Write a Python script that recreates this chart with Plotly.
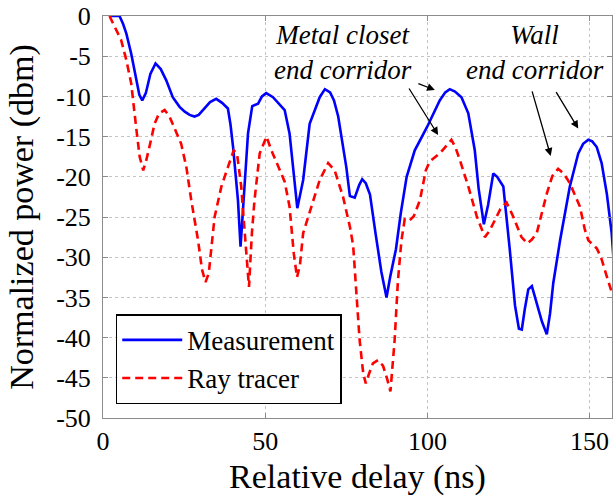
import plotly.graph_objects as go

# Power delay profile: measured vs. ray-traced (normalized power, dBm)
meas_delay = [2.5, 5.1, 6.2, 7.2, 8.7, 10.2, 11.2, 12.1, 13.2, 14.6, 16.2, 17.8, 19.5, 21.5, 23.6,
              25.2, 26.7, 28.2, 29.5, 30.8, 33.0, 34.9, 36.7, 38.5, 39.3, 40.1, 41.6, 42.4, 43.6,
              44.7, 46.0, 47.8, 49.0, 50.3, 52.4, 54.3, 56.0, 57.5, 58.8, 59.9, 61.7, 63.7, 66.8,
              68.4, 70.0, 71.2, 72.5, 75.0, 76.1, 77.6, 79.0, 79.9, 81.0, 82.3, 84.0, 85.8, 87.4,
              88.5, 90.3, 91.8, 93.6, 96.1, 99.9, 103.8, 105.5, 106.9, 108.5, 110.5, 112.6, 114.6,
              115.8, 117.4, 118.7, 120.3, 121.5, 123.4, 125.4, 127.0, 128.2, 129.1, 130.0, 131.1,
              132.2, 133.7, 135.3, 136.8, 137.8, 138.8, 140.9, 143.9, 146.5, 148.0, 149.6, 150.8,
              152.2, 153.7, 155.3, 156.8, 157.5]
meas_power = [0, 0, -1.0, -2.2, -4.7, -8.0, -9.8, -10.5, -9.6, -7.2, -5.9, -6.6, -8.0, -10.1, -11.3,
              -11.9, -12.3, -12.5, -12.3, -11.7, -10.7, -10.3, -10.8, -11.5, -13.5, -16.3, -22.9, -28.7, -21.5,
              -14.6, -11.2, -10.9, -10.0, -9.6, -10.1, -10.9, -11.7, -14.6, -20.0, -23.9, -20.4, -13.4, -10.1,
              -9.1, -9.5, -10.5, -12.5, -18.8, -22.4, -22.6, -21.0, -20.3, -20.8, -22.2, -27.0, -31.8, -35.0,
              -32.5, -29.0, -24.5, -20.0, -16.7, -13.8, -10.5, -9.5, -9.1, -9.4, -10.1, -12.1, -16.7,
              -21.5, -25.9, -23.5, -19.6, -20.0, -21.2, -29.1, -36.0, -38.9, -39.0, -36.5, -34.0,
              -33.6, -35.6, -38.0, -39.6, -37.0, -33.2, -27.9, -21.2, -17.1, -15.9, -15.4, -15.6,
              -16.3, -18.3, -22.1, -27.0, -31.0]

ray_delay = [2.0, 3.5, 5.6, 7.2, 8.7, 10.2, 11.3, 12.4, 13.3, 14.3, 15.9, 17.3, 19.0, 20.5, 22.4,
             24.1, 25.7, 27.2, 29.3, 30.5, 31.6, 32.6, 34.4, 36.5, 38.5, 40.3, 41.3, 42.6, 43.7,
             45.0, 45.9, 46.7, 48.3, 50.4, 51.9, 54.5, 56.0, 57.5, 58.8, 59.8, 60.7, 61.7, 63.7,
             66.8, 69.4, 71.4, 74.0, 76.1, 77.1, 78.1, 79.1, 80.2, 81.0, 82.0, 83.2, 84.8, 86.3,
             87.5, 88.6, 89.9, 90.9, 92.0, 93.0, 94.3, 95.8, 97.7, 99.5, 100.7, 102.3, 103.8,
             105.5, 107.4, 108.6, 110.0, 112.6, 115.2, 117.7, 119.0, 120.8, 122.5, 124.4, 126.4,
             129.0, 130.8, 132.2, 133.7, 136.8, 138.5, 140.3, 142.0, 143.9, 147.0, 148.5, 149.6,
             152.2, 153.5, 155.0, 157.0]
ray_power = [0, -1.3, -3.0, -5.5, -8.4, -13.8, -17.5, -19.2, -18.0, -16.3, -13.4, -12.1, -11.7, -12.5, -14.4,
             -15.9, -18.8, -22.9, -27.9, -31.5, -33.1, -32.0, -25.0, -21.2, -18.8, -16.7, -17.1, -21.2, -27.0,
             -33.7, -27.0, -22.9, -17.1, -15.0, -16.7, -19.2, -20.6, -23.7, -29.5, -32.5, -31.0, -27.0, -24.5,
             -20.4, -18.3, -19.2, -22.5, -26.2, -28.5, -34.1, -40.3, -44.4, -45.7, -44.5, -43.2, -42.8, -43.5,
             -45.0, -46.7, -40.3, -33.0, -27.9, -25.3, -25.5, -24.9, -22.9, -19.2, -18.1, -17.6, -17.1,
             -16.3, -15.4, -16.3, -17.9, -21.2, -24.9, -27.5, -26.8, -25.4, -24.0, -23.2, -24.9,
             -27.5, -28.3, -27.8, -27.0, -22.1, -19.9, -19.0, -19.6, -20.8, -23.7, -26.5, -27.9,
             -28.9, -30.0, -32.0, -34.6]

x_ticks = [0, 50, 100, 150]
y_ticks = [0, -5, -10, -15, -20, -25, -30, -35, -40, -45, -50]
y_tick_text = ["0", "-5", "-10", "-15", "-20", "-25", "-30", "-35", "-40", "-45", "-50"]

FONT = "Liberation Serif, Times New Roman, serif"

fig = go.Figure()
fig.add_trace(go.Scatter(x=meas_delay, y=meas_power, mode="lines", name="Measurement",
                         line=dict(color="#0000ff", width=2.6)))
fig.add_trace(go.Scatter(x=ray_delay, y=ray_power, mode="lines", name="Ray tracer",
                         line=dict(color="#ff0000", width=2.6, dash="8px,5px")))

axis_common = dict(
    showline=True, linecolor="#8c8c8c", linewidth=1, mirror="ticks",
    ticks="inside", ticklen=5, tickcolor="#8c8c8c",
    showgrid=True, gridcolor="#c4c4c4", griddash="dot", gridwidth=1,
    zeroline=False, tickfont=dict(family=FONT, size=26, color="black"),
)

fig.update_xaxes(range=[0, 156.9], tickvals=x_ticks,
                 title=dict(text="Relative delay (ns)", font=dict(family=FONT, size=34, color="black"),
                            standoff=8),
                 **axis_common)
fig.update_yaxes(range=[-50, 0], tickvals=y_ticks, ticktext=y_tick_text,
                 title=dict(text="Normalized power (dbm)", font=dict(family=FONT, size=34, color="black"),
                            standoff=12),
                 ticklabelstandoff=6,
                 **axis_common)

ann_font = dict(family=FONT, size=27, color="black")
fig.add_annotation(x=73.9, y=-4.6, text="<i>Metal closet<br>end corridor</i>", showarrow=False,
                   font=ann_font, xanchor="center", yanchor="middle")
fig.add_annotation(x=133.1, y=-4.6, text="<i>Wall<br>end corridor</i>", showarrow=False,
                   font=ann_font, xanchor="center", yanchor="middle")

# Arrows pointing from the labels to the corresponding peaks
arrows = [(102.3, -9.2, -18, -7), (103.3, -14.8, -30, -48),
          (138.0, -17.4, -19, -66), (146.5, -14.0, -23, -38)]
for hx, hy, dx, dy in arrows:
    fig.add_annotation(x=hx, y=hy, ax=dx, ay=dy, axref="pixel", ayref="pixel", text="",
                       showarrow=True, arrowhead=2, arrowsize=1.2, arrowwidth=1.3, arrowcolor="black")

fig.update_layout(
    width=613, height=498,
    margin=dict(l=103, r=1, t=16, b=80),
    paper_bgcolor="white", plot_bgcolor="white",
    font=dict(family=FONT, color="black"),
    legend=dict(x=0.025, y=0.258, xanchor="left", yanchor="top",
                bgcolor="white", bordercolor="black", borderwidth=1.5,
                font=dict(family=FONT, size=27, color="black"),
                itemwidth=60, tracegroupgap=0),
)

fig.write_html("out.html")
